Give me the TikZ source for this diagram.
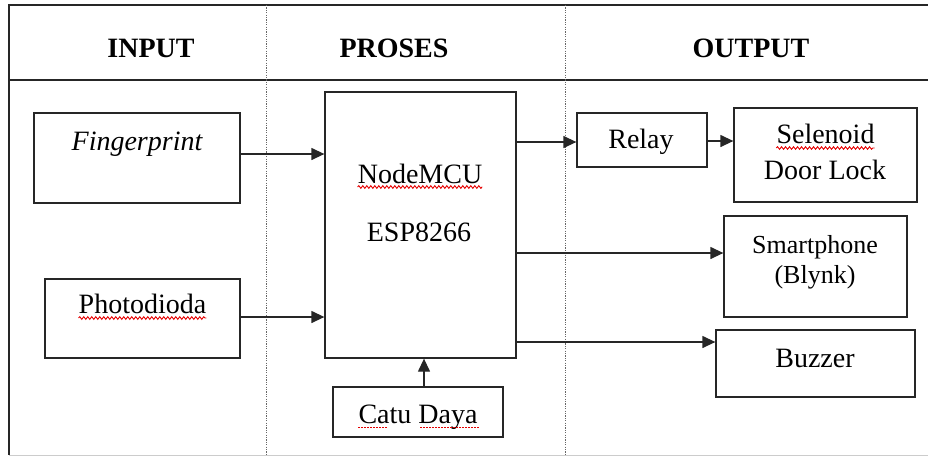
\documentclass[tikz,border=0pt]{standalone}
\usepackage{fontspec}
\setmainfont{Liberation Serif}
\usetikzlibrary{arrows.meta,decorations.pathmorphing}
\begin{document}
\begin{tikzpicture}[x=1pt,y=-1pt,
  line/.style={draw=black!85,line width=1.3pt},
  box/.style={line,rectangle,inner sep=0pt},
  lbl/.style={anchor=base,inner sep=0pt,font=\fontsize{28}{30}\selectfont},
  hdr/.style={anchor=base,inner sep=0pt,font=\fontsize{28}{30}\selectfont\bfseries},
  arr/.style={line,-{Triangle[length=13pt,width=12pt]}},
  divider/.style={draw=black!60,line width=1pt,dash pattern=on 1.2pt off 1.2pt},
  squig/.style={draw=red!90!black,line width=0.9pt,decorate,decoration={snake,amplitude=1.3pt,segment length=4pt}},
  dotsq/.style={draw=red!90!black,line width=0.9pt,dash pattern=on 1.5pt off 1.5pt}]
\useasboundingbox (0,0) rectangle (928,456);
% frame
\coordinate (tl) at (9,5);
\coordinate (tr) at (928,5);
\coordinate (hl) at (9,80);
\coordinate (hr) at (928,80);
\coordinate (bl) at (9,455);
\coordinate (br) at (928,455);
\draw[line] (tr) -- (tl) -- (bl);
\draw[line] (hl) -- (hr);
\draw[draw=black!20,line width=0.8pt] (bl) -- (br);
\coordinate (d1t) at (266,5);
\coordinate (d1b) at (266,455);
\coordinate (d2t) at (565,5);
\coordinate (d2b) at (565,455);
\draw[divider] (d1t) -- (d1b);
\draw[divider] (d2t) -- (d2b);
% headers
\node[hdr] (hin) at (151,57) {INPUT};
\node[hdr] (hpr) at (394,57) {PROSES};
\node[hdr] (hout) at (751,57) {OUTPUT};
% boxes
\node[box,minimum width=206pt,minimum height=90pt] (fp) at (137,158) {};
\node[box,minimum width=195pt,minimum height=79pt] (pd) at (142.5,318.5) {};
\node[box,minimum width=191pt,minimum height=266pt] (mcu) at (420.5,225) {};
\node[box,minimum width=170pt,minimum height=50pt] (catu) at (418,412) {};
\node[box,minimum width=130pt,minimum height=54pt] (relay) at (642,140) {};
\node[box,minimum width=183pt,minimum height=94pt] (sel) at (825.5,155) {};
\node[box,minimum width=183pt,minimum height=101pt] (smart) at (815.5,266.5) {};
\node[box,minimum width=199pt,minimum height=67pt] (buzz) at (815.5,363.5) {};
% texts
\node[lbl] (fpt) at (137,150) {\itshape Fingerprint};
\node[lbl] (pdt) at (142.5,313) {Photodioda};
\node[lbl] (mcut) at (420,183) {NodeMCU};
\node[lbl] (espt) at (419,241) {ESP8266};
\node[lbl] (catut) at (418,423) {Catu Daya};
\node[lbl] (relayt) at (641,148) {Relay};
\node[lbl] (selt) at (825.5,143) {Selenoid};
\node[lbl] (doort) at (825,179) {Door Lock};
\node[lbl,font=\fontsize{26}{28}\selectfont] (smartt) at (815,253) {Smartphone};
\node[lbl,font=\fontsize{26}{28}\selectfont] (blynkt) at (815,283) {(Blynk)};
\node[lbl] (buzzt) at (815,367) {Buzzer};
% spell-check marks
\draw[squig] ([yshift=-5pt]pdt.base west) -- ([yshift=-5pt]pdt.base east);
\draw[squig] ([yshift=-4pt]mcut.base west) -- ([yshift=-4pt]mcut.base east);
\draw[squig] ([yshift=-5pt]selt.base west) -- ([yshift=-5pt]selt.base east);
\coordinate (c1a) at (358,427);
\coordinate (c1b) at (387,427);
\coordinate (c2a) at (420,427);
\coordinate (c2b) at (480,427);
\draw[dotsq] (c1a) -- (c1b);
\draw[dotsq] (c2a) -- (c2b);
% connectors
\draw[arr] ([yshift=4pt]fp.east) -- ([yshift=4pt]fp.east -| mcu.west);
\draw[arr] ([yshift=1.5pt]pd.east) -- ([yshift=1.5pt]pd.east -| mcu.west);
\draw[arr] ([yshift=-2pt]relay.west -| mcu.east) -- ([yshift=-2pt]relay.west);
\draw[arr] ([yshift=-1pt]relay.east) -- ([yshift=-1pt]relay.east -| sel.west);
\draw[arr] ([yshift=13.5pt]smart.west -| mcu.east) -- ([yshift=13.5pt]smart.west);
\draw[arr] ([yshift=21.5pt]buzz.west -| mcu.east) -- ([yshift=21.5pt]buzz.west);
\draw[arr] ([xshift=6pt]catu.north) -- ([xshift=6pt]catu.north |- mcu.south);
\end{tikzpicture}
\end{document}
